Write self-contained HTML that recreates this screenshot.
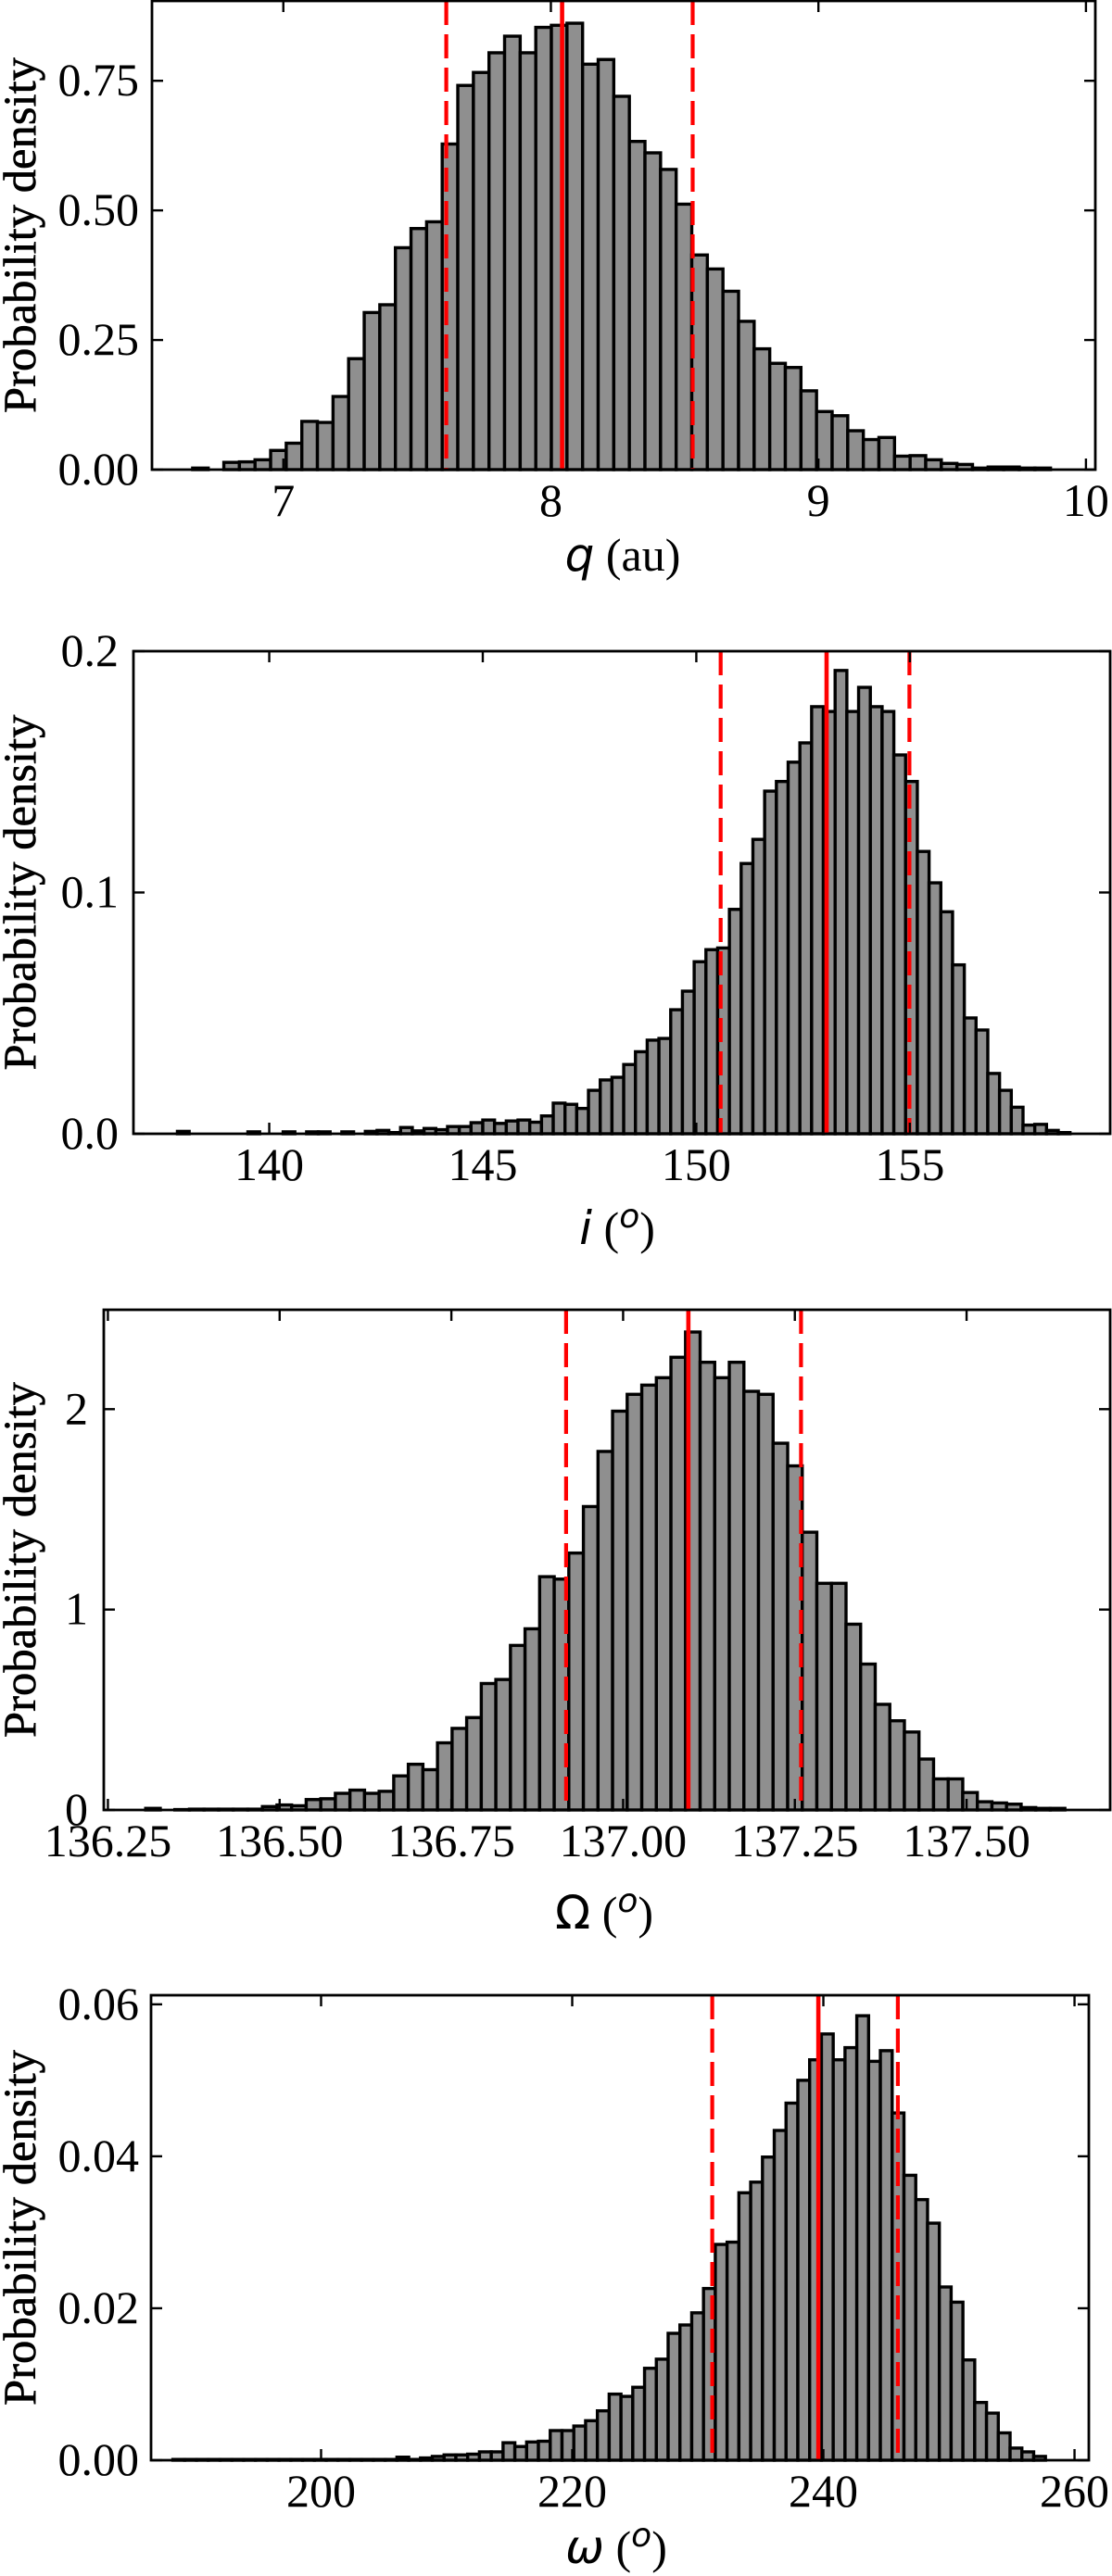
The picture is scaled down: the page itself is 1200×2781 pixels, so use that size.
<!DOCTYPE html>
<html><head><meta charset="utf-8">
<style>
html,body{margin:0;padding:0;background:#fff;}
svg{display:block;}
text{font-family:"Liberation Serif",serif;fill:#000;}
.m{font-family:"DejaVu Sans",sans-serif;font-style:italic;}
</style></head>
<body>
<svg id="fig" width="1200" height="2781" viewBox="0 0 1200 2781" xmlns="http://www.w3.org/2000/svg"></svg>
<script>
// ---- Panel 1: q (au)
const qBinStart = 6.661;
const qBinWidth = 0.0583;
const qDensity = [0.003,0,0.014,0.015,0.019,0.037,0.051,0.093,0.091,0.141,0.214,0.303,0.318,0.428,0.465,0.478,0.628,0.741,0.766,0.804,0.836,0.804,0.853,0.857,0.861,0.782,0.791,0.720,0.633,0.611,0.579,0.512,0.414,0.387,0.344,0.286,0.233,0.205,0.197,0.152,0.112,0.104,0.075,0.058,0.062,0.026,0.027,0.019,0.012,0.010,0.003,0.005,0.005,0.003,0.003];
const qLines = [7.609, 8.042, 8.530];
const qXTicks = [7, 8, 9, 10];
const qXTickLabels = ["7","8","9","10"];
const qYTicks = [0, 0.25, 0.5, 0.75];
const qYTickLabels = ["0.00","0.25","0.50","0.75"];

// ---- Panel 2: i (deg)
const iBinStart = 137.85;
const iBinWidth = 0.275;
const iDensity = [0.001,0,0,0,0,0,0.0008,0,0,0.0008,0,0.0008,0.0008,0,0.0008,0,0.001,0.0014,0.0005,0.0026,0.0012,0.0022,0.0017,0.003,0.003,0.0046,0.0057,0.0043,0.0053,0.0057,0.0048,0.0074,0.0127,0.0122,0.0105,0.018,0.0223,0.0234,0.0287,0.034,0.0388,0.0395,0.0514,0.0591,0.0713,0.0763,0.077,0.093,0.112,0.122,0.142,0.146,0.154,0.162,0.177,0.175,0.192,0.175,0.185,0.177,0.175,0.157,0.146,0.117,0.104,0.092,0.070,0.048,0.043,0.025,0.018,0.011,0.0036,0.0039,0.0014,0.0005];
const iLines = [150.57, 153.05, 154.99];
const iXTicks = [140, 145, 150, 155];
const iXTickLabels = ["140","145","150","155"];
const iYTicks = [0, 0.1, 0.2];
const iYTickLabels = ["0.0","0.1","0.2"];

// ---- Panel 3: Omega (deg)
const oBinStart = 136.305;
const oBinWidth = 0.02124;
const oDensity = [0.008,0,0.002,0.004,0.004,0.004,0.004,0.004,0.017,0.025,0.021,0.052,0.056,0.083,0.099,0.083,0.093,0.170,0.228,0.201,0.335,0.407,0.461,0.631,0.651,0.821,0.904,1.164,1.152,1.282,1.514,1.789,1.990,2.074,2.120,2.157,2.259,2.385,2.234,2.157,2.234,2.089,2.074,1.830,1.717,1.386,1.131,1.131,0.927,0.728,0.527,0.445,0.389,0.254,0.155,0.155,0.087,0.041,0.035,0.029,0.012,0.008,0.008];
const oLines = [136.917, 137.095, 137.259];
const oXTicks = [136.25, 136.5, 136.75, 137.0, 137.25, 137.5];
const oXTickLabels = ["136.25","136.50","136.75","137.00","137.25","137.50"];
const oYTicks = [0, 1, 2];
const oYTickLabels = ["0","1","2"];

// ---- Panel 4: omega (deg)
const wBinStart = 188.2;
const wBinWidth = 0.939;
const wDensity = [0.0001,0.0001,0.0001,0.0001,0.0001,0.0001,0.0001,0.0001,0.0001,0.0001,0.0001,0.0001,0.0001,0.0001,0.0001,0.0001,0.0001,0.0001,0.0001,0.0004,0.0001,0.0003,0.0005,0.0007,0.0007,0.0008,0.0011,0.0011,0.0023,0.0018,0.0024,0.0025,0.0039,0.0039,0.0045,0.0052,0.0065,0.0087,0.0084,0.0096,0.0121,0.0133,0.0167,0.0178,0.0194,0.0226,0.0284,0.0287,0.0352,0.0366,0.0399,0.0434,0.047,0.05,0.0527,0.0561,0.0527,0.0543,0.0585,0.0525,0.0539,0.0457,0.0375,0.0343,0.0312,0.0228,0.0208,0.0132,0.0076,0.0062,0.0036,0.0016,0.0011,0.0005];
const wLines = [231.15, 239.6, 245.93];
const wXTicks = [200, 220, 240, 260];
const wXTickLabels = ["200","220","240","260"];
const wYTicks = [0, 0.02, 0.04, 0.06];
const wYTickLabels = ["0.00","0.02","0.04","0.06"];

const NS = "http://www.w3.org/2000/svg";
const fig = document.getElementById('fig');
function mk(tag, attrs, parent){
  const e = document.createElementNS(NS, tag);
  for (const k in attrs) e.setAttribute(k, attrs[k]);
  (parent||fig).appendChild(e);
  return e;
}

function panel(p){
  const g = mk('g', {});
  
  
  const L=p.box[0], T=p.box[1], R=p.box[2], B=p.box[3];
  const sx = v => L + (v - p.xmin) / (p.xmax - p.xmin) * (R - L);
  const sy = v => B - (v - 0) / (p.ymax - 0) * (B - T);
  for (let k = 0; k < p.dens.length; k++){
    const x0 = sx(p.start + k * p.width), x1 = sx(p.start + (k + 1) * p.width);
    const y = sy(p.dens[k]);
    const r = mk('rect', {x:x0, y:y, width:x1-x0, height:Math.max(B-y,0), fill:'#8f8f8f', stroke:'#000', 'stroke-width':3.4}, g);
    
    
  }
  p.lines.forEach((v, k) => {
    const ln = mk('line', {x1:sx(v), x2:sx(v), y1:T, y2:B, stroke:'#ff0000', 'stroke-width':k === 1 ? 4.6 : 4.2}, g);
    if (k !== 1) ln.setAttribute('stroke-dasharray', '26 10');
    
    
  });
  const fr = mk('rect', {x:L, y:T, width:R-L, height:B-T, fill:'none', stroke:'#000', 'stroke-width':2.8}, g);
  
  
  p.xt.forEach((v, k) => {
    const x = sx(v);
    mk('line', {x1:x, x2:x, y1:B, y2:B-12, stroke:'#000', 'stroke-width':2.4}, g);
    mk('line', {x1:x, x2:x, y1:T, y2:T+12, stroke:'#000', 'stroke-width':2.4}, g);
    const t = mk('text', {x:x, y:B+50, 'font-size':50, 'text-anchor':'middle'}, g);
    t.textContent = p.xl[k];
    
    
  });
  p.yt.forEach((v, k) => {
    const y = sy(v);
    mk('line', {x1:L, x2:L+12, y1:y, y2:y, stroke:'#000', 'stroke-width':2.4}, g);
    mk('line', {x1:R, x2:R-12, y1:y, y2:y, stroke:'#000', 'stroke-width':2.4}, g);
    const t = mk('text', {x:p.ylabX, y:y+16, 'font-size':50, 'text-anchor':'end'}, g);
    t.textContent = p.yl[k];
    
    
  });
  const cy = (T + B) / 2;
  const yt = mk('text', {x:0, y:0, 'font-size':50, 'text-anchor':'middle', stroke:'#000', 'stroke-width':0.6, transform:'translate(38,'+cy+') rotate(-90)', textLength:384, lengthAdjust:'spacingAndGlyphs'}, g);
  yt.textContent = 'Probability density';
  
  
  const xt = mk('text', {x:p.titleX, y:p.titleY, 'font-size':50, 'text-anchor':'middle'}, g);
  xt.innerHTML = p.title;
  
  
}

panel({name:'q', box:[164,1,1182,507], xmin:6.509, xmax:10.035, ymax:0.904,
  start:qBinStart, width:qBinWidth, dens:qDensity, lines:qLines,
  xt:qXTicks, xl:qXTickLabels, yt:qYTicks, yl:qYTickLabels, ylabX:150,
  title:'<tspan class="m">q</tspan> (au)', titleX:672, titleY:616});
panel({name:'inclination', box:[144,703,1198,1224], xmin:136.82, xmax:159.69, ymax:0.2,
  start:iBinStart, width:iBinWidth, dens:iDensity, lines:iLines,
  xt:iXTicks, xl:iXTickLabels, yt:iYTicks, yl:iYTickLabels, ylabX:128,
  title:'<tspan class="m">i</tspan> (<tspan class="m" font-size="36" dy="-18">o</tspan><tspan dy="18">)</tspan>', titleX:666, titleY:1343});
panel({name:'node', box:[112,1414,1198,1954], xmin:136.244, xmax:137.709, ymax:2.496,
  start:oBinStart, width:oBinWidth, dens:oDensity, lines:oLines,
  xt:oXTicks, xl:oXTickLabels, yt:oYTicks, yl:oYTickLabels, ylabX:95,
  title:'<tspan font-family="DejaVu Sans">Ω</tspan> (<tspan class="m" font-size="36" dy="-18">o</tspan><tspan dy="18">)</tspan>', titleX:652, titleY:2082});
panel({name:'perihelion', box:[163,2154,1175,2656], xmin:186.46, xmax:261.14, ymax:0.0612,
  start:wBinStart, width:wBinWidth, dens:wDensity, lines:wLines,
  xt:wXTicks, xl:wXTickLabels, yt:wYTicks, yl:wYTickLabels, ylabX:150,
  title:'<tspan class="m">ω</tspan> (<tspan class="m" font-size="36" dy="-18">o</tspan><tspan dy="18">)</tspan>', titleX:665, titleY:2767});
</script>
</body></html>
